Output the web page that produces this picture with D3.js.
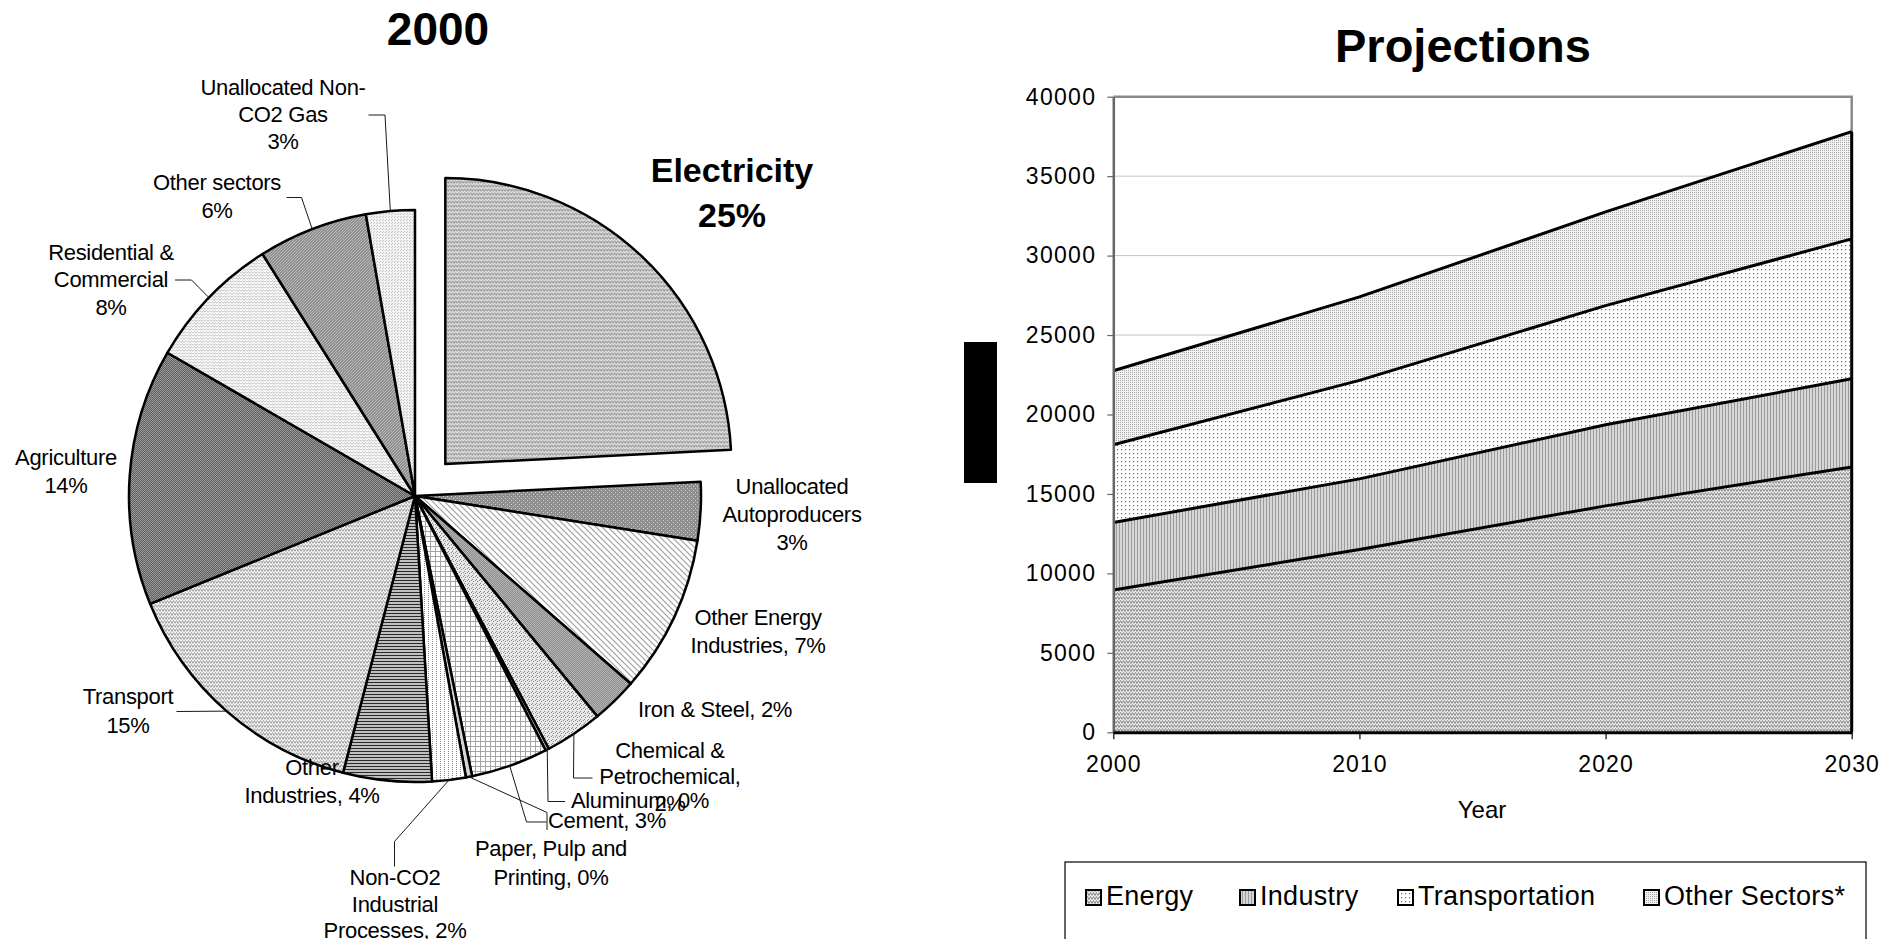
<!DOCTYPE html>
<html>
<head>
<meta charset="utf-8">
<script src="https://cdn.jsdelivr.net/npm/d3@7"></script>
<style>
  html, body { margin: 0; padding: 0; background: #fff; }
  svg { display: block; }
  text { font-family: "Liberation Sans", Arial, sans-serif; fill: #000; }
</style>
</head>
<body>
<svg id="chart" width="1894" height="939"></svg>
<script>
// ---- 2000 breakdown by sector (share of total, %) ----
const sectors = [
  "Electricity", "Unallocated Autoproducers", "Other Energy Industries", "Iron & Steel",
  "Chemical & Petrochemical", "Aluminum", "Cement", "Paper, Pulp and Printing",
  "Non-CO2 Industrial Processes", "Other Industries", "Transport", "Agriculture",
  "Residential & Commercial", "Other sectors", "Unallocated Non-CO2 Gas"
];
const sectorShare = [24.2, 3.3, 8.9, 2.6, 3.25, 0.2, 4.35, 0.35, 1.9, 5.0, 14.8, 14.5, 7.7, 6.2, 2.75];
const sectorLabels = [
  ["Electricity", "25%"],
  ["Unallocated", "Autoproducers", "3%"],
  ["Other Energy", "Industries, 7%"],
  ["Iron & Steel,  2%"],
  ["Chemical &", "Petrochemical,", "2%"],
  ["Aluminum, 0%"],
  ["Cement, 3%"],
  ["Paper, Pulp and", "Printing, 0%"],
  ["Non-CO2", "Industrial", "Processes, 2%"],
  ["Other", "Industries, 4%"],
  ["Transport", "15%"],
  ["Agriculture", "14%"],
  ["Residential &", "Commercial", "8%"],
  ["Other sectors", "6%"],
  ["Unallocated Non-", "CO2 Gas", "3%"]
];

// ---- Projections by sector ----
const years = [2000, 2010, 2020, 2030];
const seriesNames = ["Energy", "Industry", "Transportation", "Other Sectors*"];
const energy = [8950, 11500, 14250, 16700];
const industry = [4250, 4450, 5100, 5550];
const transportation = [4900, 6200, 7500, 8800];
const otherSectors = [4650, 5250, 5900, 6750];
const yTicks = [0, 5000, 10000, 15000, 20000, 25000, 30000, 35000, 40000];
const xTicks = [2000, 2010, 2020, 2030];

const svg = d3.select("#chart");
const defs = svg.append("defs");

// ---------- fill textures ----------
function pattern(id, w, h, bg) {
  const p = defs.append("pattern").attr("id", id)
    .attr("patternUnits", "userSpaceOnUse").attr("width", w).attr("height", h);
  p.append("rect").attr("width", w).attr("height", h).attr("fill", bg);
  return p;
}
function px(p, pts, color, s = 1) {
  pts.forEach(([x, y]) => p.append("rect").attr("x", x).attr("y", y)
    .attr("width", s).attr("height", s).attr("fill", color));
}
function stroke(p, d, color, w = 1) {
  p.append("path").attr("d", d).attr("fill", "none").attr("stroke", color).attr("stroke-width", w);
}

stroke(pattern("p-zig", 6, 4, "#e6e6e6"), "M0,3.5 L1.5,0.5 L3,3.5 L4.5,0.5 L6,3.5", "#8e8e8e");
stroke(pattern("p-zig-light", 6, 4, "#f0f0f0"), "M0,3.5 L1.5,0.5 L3,3.5 L4.5,0.5 L6,3.5", "#a6a6a6");
stroke(pattern("p-resid", 6, 3, "#ffffff"), "M0,2.5 L1.5,0.5 L3,2.5 L4.5,0.5 L6,2.5", "#c2c2c2");
px(pattern("p-auto", 4, 4, "#8e8e8e"), [[0, 0], [2, 2]], "#d2d2d2");
stroke(pattern("p-diag", 6, 6, "#ffffff"), "M0,0 L6,6 M-1,5 L1,7 M5,-1 L7,1", "#a2a2a2", 1.2);
px(pattern("p-iron", 2, 2, "#b4b4b4"), [[0, 0], [1, 1]], "#8e8e8e");
px(pattern("p-chem", 4, 4, "#e8e8e8"), [[0, 0], [2, 1], [1, 3]], "#8a8a8a");
(function () {
  const p = pattern("p-grid", 5, 5, "#ffffff");
  p.append("rect").attr("x", 0).attr("y", 0).attr("width", 1).attr("height", 5).attr("fill", "#a4a4a4");
  p.append("rect").attr("x", 0).attr("y", 0).attr("width", 5).attr("height", 1).attr("fill", "#a4a4a4");
})();
px(pattern("p-ncoind", 4, 4, "#ffffff"), [[1, 1], [1, 3]], "#8c8c8c");
pattern("p-hline", 3, 3, "#c0c0c0").append("rect").attr("width", 3).attr("height", 1).attr("fill", "#2a2a2a");
px(pattern("p-agri", 2, 2, "#9a9a9a"), [[0, 0], [1, 1]], "#5e5e5e");
px(pattern("p-osect", 3, 3, "#909090"), [[0, 0], [2, 1], [1, 2]], "#bababa");
px(pattern("p-ugas", 3, 3, "#f2f2f2"), [[0, 0], [1, 2]], "#c4c4c4");
pattern("p-vline", 3, 1, "#d6d6d6").append("rect").attr("width", 1).attr("height", 1).attr("fill", "#9c9c9c");
px(pattern("p-tdots", 4, 4, "#ffffff"), [[1, 1]], "#6e6e6e", 1.2);
px(pattern("p-fdots", 2, 2, "#f2f2f2"), [[0, 0]], "#a8a8a8");

const sectorFill = [
  "url(#p-zig)", "url(#p-auto)", "url(#p-diag)", "url(#p-iron)", "url(#p-chem)",
  "#c4c4c4", "url(#p-grid)", "#d6d6d6", "url(#p-ncoind)", "url(#p-hline)",
  "url(#p-zig-light)", "url(#p-agri)", "url(#p-resid)", "url(#p-osect)", "url(#p-ugas)"
];
const seriesFill = ["url(#p-zig)", "url(#p-vline)", "url(#p-tdots)", "url(#p-fdots)"];

// ================= LEFT: 2000 pie =================
const cx = 415, cy = 496, R = 286, explode = 44;

svg.append("text").attr("x", 438).attr("y", 45).attr("text-anchor", "middle")
  .style("font-size", "46px").style("font-weight", "bold").text("2000");

const pie = d3.pie().sort(null).value(d => d.v).startAngle(0).endAngle(2 * Math.PI);
const slices = pie(sectorShare.map((v, i) => ({ v, i })));
const arc = d3.arc().innerRadius(0).outerRadius(R);

const pieG = svg.append("g").attr("transform", `translate(${cx},${cy})`);
pieG.selectAll("path.slice").data(slices).join("path")
  .attr("class", "slice")
  .attr("d", arc)
  .attr("transform", d => {
    if (d.data.i !== 0) return null;
    const m = (d.startAngle + d.endAngle) / 2;
    return `translate(${explode * Math.sin(m)},${-explode * Math.cos(m)})`;
  })
  .attr("fill", d => sectorFill[d.data.i])
  .attr("stroke", "#000").attr("stroke-width", 2.5).attr("stroke-linejoin", "round");

// label placement: anchor x, first baseline, line step, leader bend points
const labelLayout = [
  { x: 732, y: 182, lh: 45, bold: true },
  { x: 792, y: 494, lh: 28 },
  { x: 758, y: 625, lh: 27.5 },
  { x: 715, y: 717, lh: 27 },
  { x: 670, y: 757.5, lh: 26.7, leader: [[573.5, 778], [592.5, 778]] },
  { x: 640, y: 807.5, lh: 27, leader: [[548, 801.5], [565, 801.5]] },
  { x: 607, y: 828, lh: 27, leader: [[526.5, 822], [546.5, 822]] },
  { x: 551, y: 856, lh: 29, leader: [[547, 812.5], [547, 830]] },
  { x: 395, y: 885, lh: 26.7, leader: [[394.5, 841.5], [394.5, 866.5]] },
  { x: 312, y: 775, lh: 27.5 },
  { x: 128, y: 704, lh: 28.6, leader: [[176.5, 711.5]] },
  { x: 66, y: 465, lh: 28 },
  { x: 111, y: 259.5, lh: 27.5, leader: [[191.5, 280], [175, 280]] },
  { x: 217, y: 190, lh: 28, leader: [[301.5, 197.5], [286.5, 197.5]] },
  { x: 283, y: 95, lh: 27, leader: [[385, 115], [368.5, 115]] }
];

slices.forEach(s => {
  const L = labelLayout[s.data.i];
  if (!L.leader) return;
  const m = (s.startAngle + s.endAngle) / 2;
  const start = [cx + R * Math.sin(m), cy - R * Math.cos(m)];
  svg.append("path")
    .attr("d", d3.line()([start, ...L.leader]))
    .attr("fill", "none").attr("stroke", "#1a1a1a").attr("stroke-width", 1);
});

sectorLabels.forEach((lines, i) => {
  const L = labelLayout[i];
  const t = svg.append("text").attr("text-anchor", "middle")
    .style("font-size", L.bold ? "34px" : "22px")
    .style("font-weight", L.bold ? "bold" : "normal")
    .style("letter-spacing", L.bold ? "0px" : "-0.3px");
  lines.forEach((ln, k) => t.append("tspan").attr("x", L.x).attr("y", L.y + k * L.lh).text(ln));
});

// ================= RIGHT: projections =================
const x = d3.scaleLinear().domain([2000, 2030]).range([1113.3, 1851.7]);
const y = d3.scaleLinear().domain([0, 40000]).range([732.3, 96.7]);

svg.append("text").attr("x", 1463).attr("y", 62).attr("text-anchor", "middle")
  .style("font-size", "47px").style("font-weight", "bold").text("Projections");

// block beside the value axis
svg.append("rect").attr("x", 964).attr("y", 342).attr("width", 33).attr("height", 141).attr("fill", "#000");

// horizontal gridlines
svg.append("g").selectAll("line").data(yTicks.filter(v => v > 0 && v < 40000)).join("line")
  .attr("x1", x(2000)).attr("x2", x(2030))
  .attr("y1", d => y(d)).attr("y2", d => y(d))
  .attr("stroke", "#c4c4c4").attr("stroke-width", 1);

// plot frame (top and right)
svg.append("path")
  .attr("d", d3.line()([[x(2000), y(40000)], [x(2030), y(40000)], [x(2030), y(0)]]))
  .attr("fill", "none").attr("stroke", "#8a8a8a").attr("stroke-width", 2.5);

const table = years.map((yr, i) => ({
  year: yr,
  "Energy": energy[i],
  "Industry": industry[i],
  "Transportation": transportation[i],
  "Other Sectors*": otherSectors[i]
}));
const layers = d3.stack().keys(seriesNames)(table);

const area = d3.area().x(d => x(d.data.year)).y0(d => y(d[0])).y1(d => y(d[1]));
svg.append("g").selectAll("path").data(layers).join("path")
  .attr("d", area).attr("fill", (d, i) => seriesFill[i]);

const topLine = d3.line().x(d => x(d.data.year)).y(d => y(d[1]));
svg.append("g").selectAll("path").data(layers).join("path")
  .attr("d", topLine).attr("fill", "none").attr("stroke", "#000").attr("stroke-width", 3);

const lastTotal = layers[layers.length - 1][years.length - 1][1];
svg.append("line")
  .attr("x1", x(2030)).attr("x2", x(2030)).attr("y1", y(0)).attr("y2", y(lastTotal))
  .attr("stroke", "#000").attr("stroke-width", 3);

// value axis
const yAxis = svg.append("g").attr("transform", `translate(${x(2000)},0)`)
  .call(d3.axisLeft(y).tickValues(yTicks).tickSize(6).tickSizeOuter(0).tickPadding(11).tickFormat(d3.format("d")));
yAxis.select(".domain").attr("stroke", "#666").attr("stroke-width", 2.5);
yAxis.selectAll(".tick line").attr("stroke", "#666").attr("stroke-width", 1.2);
yAxis.selectAll(".tick text")
  .style("font-size", "23px").style("letter-spacing", "1.3px")
  .style("font-family", '"Liberation Sans", Arial, sans-serif').attr("fill", "#000");

// year axis
const xAxis = svg.append("g").attr("transform", `translate(0,${y(0)})`)
  .call(d3.axisBottom(x).tickValues(xTicks).tickSize(7).tickSizeOuter(0).tickPadding(16).tickFormat(d3.format("d")));
xAxis.select(".domain").attr("stroke", "#000").attr("stroke-width", 3);
xAxis.selectAll(".tick line").attr("stroke", "#000").attr("stroke-width", 1.2);
xAxis.selectAll(".tick text")
  .style("font-size", "23px").style("letter-spacing", "1.1px")
  .style("font-family", '"Liberation Sans", Arial, sans-serif').attr("fill", "#000");

svg.append("text").attr("x", 1482).attr("y", 818).attr("text-anchor", "middle")
  .style("font-size", "24px").text("Year");

// legend
svg.append("rect").attr("x", 1065).attr("y", 862).attr("width", 801).attr("height", 120)
  .attr("fill", "#fff").attr("stroke", "#000").attr("stroke-width", 1.2);
const legendX = [1086, 1240, 1398, 1644];
seriesNames.forEach((name, i) => {
  svg.append("rect").attr("x", legendX[i]).attr("y", 890).attr("width", 15).attr("height", 15)
    .attr("fill", seriesFill[i]).attr("stroke", "#000").attr("stroke-width", 2);
  svg.append("text").attr("x", legendX[i] + 20).attr("y", 905)
    .style("font-size", "27px").style("letter-spacing", "0.3px").text(name);
});
</script>
</body>
</html>
